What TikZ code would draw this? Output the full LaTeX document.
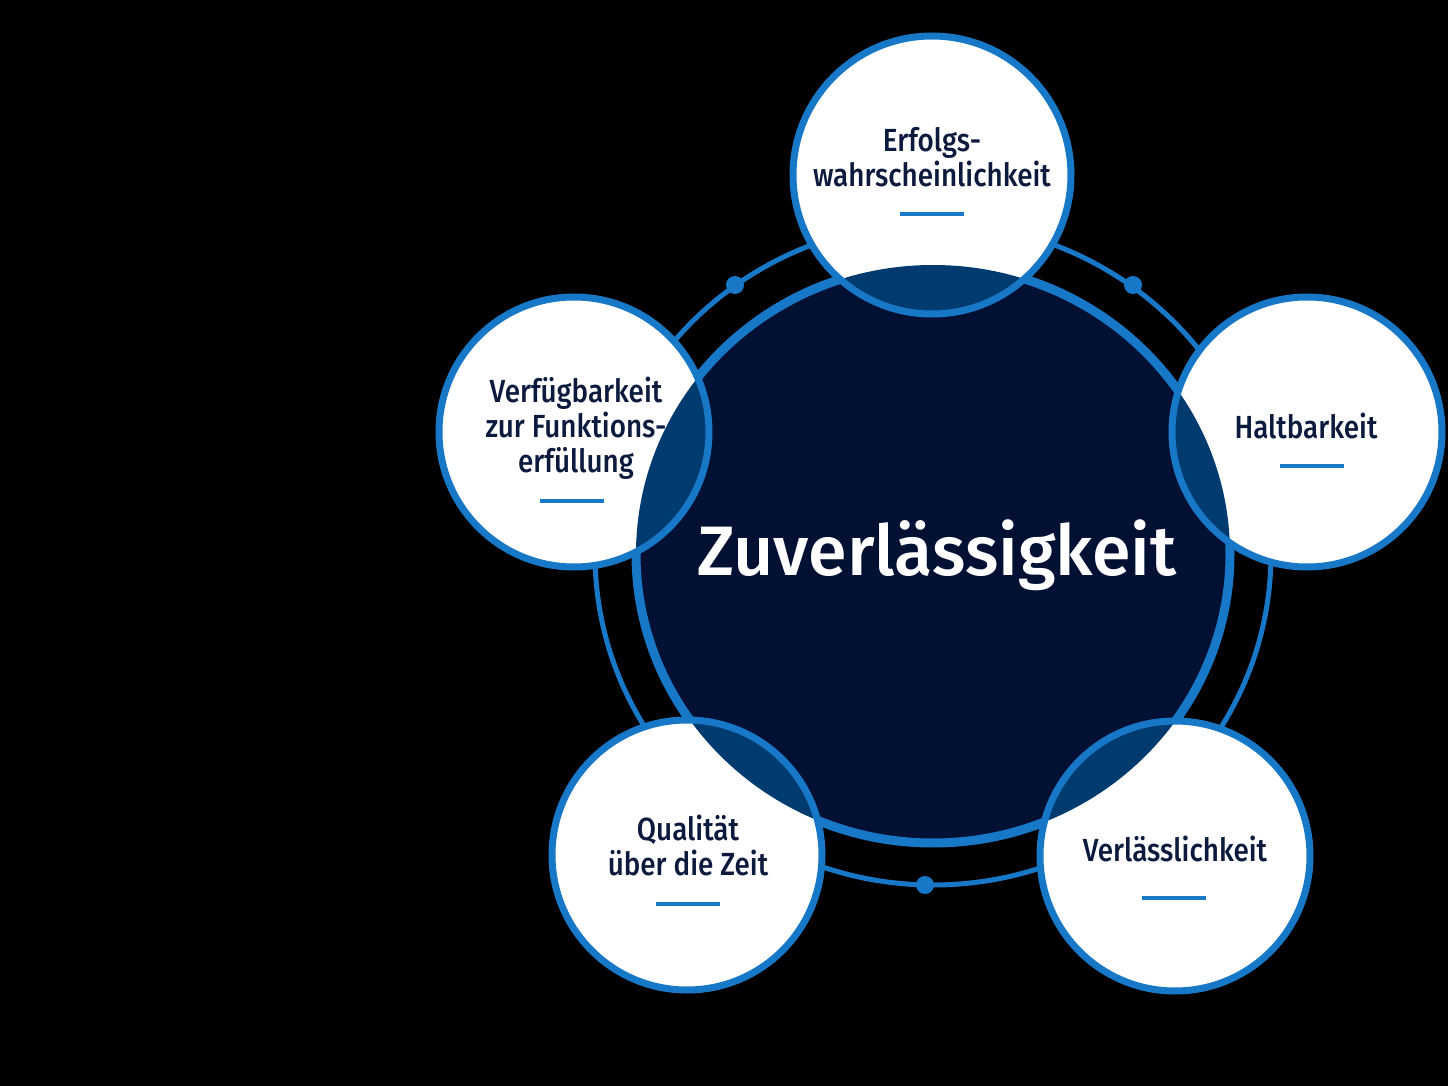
\documentclass[tikz,border=0pt]{standalone}
\usepackage{fontspec}
\setmainfont{Fira Sans}[UprightFont={* Medium}, BoldFont={* SemiBold}]
\newfontfamily\labelfont{Fira Sans}[UprightFont={* Medium}, FakeStretch=0.87]

\definecolor{ringblue}{HTML}{1878C8}
\definecolor{navy}{HTML}{021034}
\definecolor{lensblue}{HTML}{003B70}
\definecolor{labeltext}{HTML}{0B1A3D}

\tikzset{
    ring/.style = {draw=ringblue, line width=2.5pt},
    satfill/.style = {fill=white},
    satline/.style = {draw=ringblue, line width=3.5pt},
    label/.style = {text=labeltext, align=center, font=\labelfont\fontsize{16}{17.5}\selectfont},
    bar/.style = {draw=ringblue, line width=2pt}
}

\begin{document}
\begin{tikzpicture}[x=0.5pt, y=-0.5pt]
    \def \cx {933}
    \def \cy {554}

    % background
    \fill[black] (0,0) rectangle (1448,1086);
    \useasboundingbox (0,0) rectangle (1448,1086);

    % outer ring and dots
    \draw[ring] (\cx,\cy) ellipse [x radius=338, y radius=331];
    \foreach \x/\y in {735/285, 1133/285, 925/885}
        \fill[ringblue] (\x,\y) circle (9);

    % center
    \draw[fill=navy, draw=ringblue, line width=4.5pt] (\cx,\cy) ellipse [x radius=297, y radius=289];

    % satellites
    \foreach \x/\y/\r in {932/175/139, 574/432/135, 1307/432/135, 687/855/135, 1175/856/135}
    {
        \fill[satfill] (\x,\y) circle (\r);
        \begin{scope}
            \clip (\cx,\cy) ellipse [x radius=297, y radius=289];
            \fill[lensblue] (\x,\y) circle (\r);
        \end{scope}
        \draw[satline] (\x,\y) circle (\r);
    }

    % texts
    \node[text=white, anchor=base, font=\fontsize{35}{40}\selectfont] (main) at (937,575) {Zuverlässigkeit};

    \node[label] (erfolg) at (932,157) {Erfolgs-\\wahrscheinlichkeit};
    \node[label] (verfueg) at (576,428) {Verfügbarkeit\\zur Funktions-\\erfüllung};
    \node[label] (halt) at (1306,426) {Haltbarkeit};
    \node[label] (quali) at (688,845) {Qualität\\über die Zeit};
    \node[label] (verlass) at (1175,849) {Verlässlichkeit};

    % small bars
    \foreach \x/\y in {932/214, 572/501, 1312/466, 688/904, 1174/898}
        \draw[bar] (\x-32,\y) -- (\x+32,\y);

\end{tikzpicture}
\end{document}
